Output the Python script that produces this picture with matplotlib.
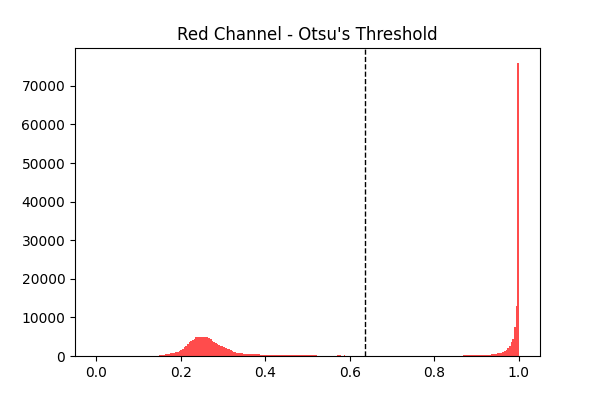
import numpy as np
import matplotlib
matplotlib.use("Agg")
import matplotlib.pyplot as plt

NBINS = 256
THRESH = 0.637

# bin index where each run of counts starts (bins of width 1/256 on [0,1])
left_start = 38
left_counts = [150, 200, 250, 300, 400, 500, 600, 700,
               800, 900, 1000, 1000, 1200, 1500, 1900, 2300,
               2700, 3100, 3500, 3900, 4200, 4500, 4800, 4900,
               5000, 5000, 5000, 4900, 4900, 4800, 4600, 4300,
               4000, 3700, 3400, 3100, 2900, 2700, 2500, 2300,
               2100, 1900, 1700, 1500, 1300, 1100, 1000, 900,
               800, 700, 700, 600, 600, 500, 500, 500,
               450, 450, 400, 400, 400, 350, 350, 350,
               300, 300, 250, 250, 250, 250, 200, 200,
               200, 200, 200, 200, 200, 200, 200, 200,
               150, 150, 150, 150, 150, 150, 150, 150,
               150, 150, 150, 150, 150, 150, 150, 150,
               120, 120, 120, 120, 120, 120, 120, 120,
               120, 120, 120, 120, 200, 200, 0, 0, 200]
right_start = 222
right_counts = [150, 150, 150, 150, 150, 150, 150, 150,
                150, 150, 200, 200, 200, 200, 250,
                300, 300, 400, 400, 500, 600,
                700, 800, 900, 1100, 1300, 1600, 2000,
                2600, 3500, 4500, 7500, 13000, 76000]

counts = np.zeros(NBINS)
counts[left_start:left_start + len(left_counts)] = left_counts
counts[right_start:right_start + len(right_counts)] = right_counts
edges = np.linspace(0, 1, NBINS + 1)

fig, ax = plt.subplots(figsize=(6, 4), dpi=100)
ax.bar(edges[:-1], counts, width=1 / NBINS, align="edge", color="red", alpha=0.7)
ax.axvline(THRESH, color="black", linestyle="--", linewidth=1)
ax.set_title("Red Channel - Otsu's Threshold")
fig.savefig("out.png")
